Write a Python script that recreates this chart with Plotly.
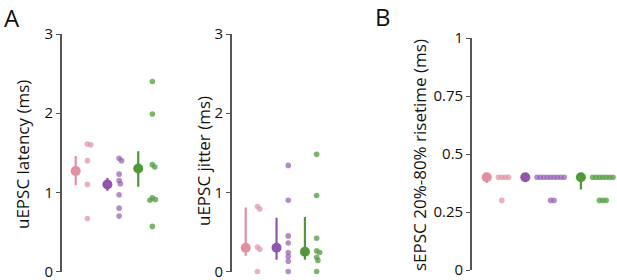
import plotly.graph_objects as go
import numpy as np

W, H = 617, 280

group_names = ["pink", "purple", "green"]
mean_colors = ["#e48fa1", "#9056ae", "#4e9a38"]
point_colors = ["rgba(228,150,168,0.75)", "rgba(150,96,182,0.72)", "rgba(86,160,66,0.78)"]

# Panel A left: uEPSC latency (ms)
latency_pink = [1.61, 1.60, 1.40, 1.10, 0.67]
latency_purple = [1.43, 1.40, 1.23, 1.15, 1.11, 0.97, 0.80, 0.70]
latency_green = [2.40, 1.99, 1.35, 1.32, 0.93, 0.91, 0.90, 0.57]
latency_center = [1.27, 1.10, 1.30]
latency_low = [1.09, 1.02, 1.07]
latency_high = [1.46, 1.18, 1.52]

# Panel A right: uEPSC jitter (ms)
jitter_pink = [0.82, 0.79, 0.31, 0.28, 0.0]
jitter_purple = [1.34, 0.90, 0.45, 0.36, 0.24, 0.19, 0.13, 0.0]
jitter_green = [1.48, 0.96, 0.42, 0.26, 0.24, 0.18, 0.14, 0.0]
jitter_center = [0.30, 0.30, 0.25]
jitter_low = [0.20, 0.15, 0.15]
jitter_high = [0.81, 0.68, 0.69]

# Panel B: sEPSC 20%-80% risetime (ms)
rise_pink = [0.4, 0.4, 0.4, 0.4, 0.3]
rise_purple = [0.4, 0.4, 0.4, 0.4, 0.4, 0.4, 0.4, 0.4, 0.4, 0.3, 0.3]
rise_green = [0.4, 0.4, 0.4, 0.4, 0.4, 0.4, 0.4, 0.3, 0.3, 0.3]
rise_center = [0.40, 0.40, 0.40]
rise_low = [0.375, 0.40, 0.347]
rise_high = [0.40, 0.40, 0.40]

A_ticks = [0, 1, 2, 3]
A_ticktext = ["0", "1", "2", "3"]
B_ticks = [0, 0.25, 0.5, 0.75, 1]
B_ticktext = ["0", "0.25", "0.5", "0.75", "1"]

FONT = "Open Sans"
AXC = "#555555"


def swarm(values, px_per_unit, d=3.4):
    vals = np.asarray(values, dtype=float)
    order = np.argsort(-vals, kind="stable")
    placed = []
    res = [0.0] * len(vals)
    for i in order:
        y = vals[i] * px_per_unit
        cands = [0.0]
        for (px, py) in placed:
            dy = y - py
            if abs(dy) < d:
                dx = (d * d - dy * dy) ** 0.5
                cands += [px + dx, px - dx]
        cands.sort(key=abs)
        for c in cands:
            if all((c - px) ** 2 + (y - py) ** 2 >= d * d - 1e-6 for px, py in placed):
                res[i] = c
                placed.append((c, y))
                break
    return res


panels = [
    dict(groups=[latency_pink, latency_purple, latency_green], c=latency_center,
         lo=latency_low, hi=latency_high, x0=62, x1=165, ytop=34, ybot=271.5,
         rng=[0, 3], start=13.7, tv=A_ticks, tt=A_ticktext),
    dict(groups=[jitter_pink, jitter_purple, jitter_green], c=jitter_center,
         lo=jitter_low, hi=jitter_high, x0=232, x1=335, ytop=34, ybot=271.5,
         rng=[0, 3], start=13.7, tv=A_ticks, tt=A_ticktext),
    dict(groups=[rise_pink, rise_purple, rise_green], c=rise_center,
         lo=rise_low, hi=rise_high, x0=472, x1=617, ytop=38, ybot=270,
         rng=[0, 1], start=14.7, tv=B_ticks, tt=B_ticktext),
]

fig = go.Figure()
layout = dict(width=W, height=H, margin=dict(l=0, r=0, t=0, b=0, autoexpand=False),
              paper_bgcolor="white", plot_bgcolor="white", showlegend=False,
              template="none",
              font=dict(family=FONT, color="#111111"))

for k, p in enumerate(panels):
    n = k + 1
    xa = "x" if n == 1 else f"x{n}"
    ya = "y" if n == 1 else f"y{n}"
    ppu = (p["ybot"] - p["ytop"]) / (p["rng"][1] - p["rng"][0])
    cursor = p["start"]
    for g, vals in enumerate(p["groups"]):
        mx = cursor
        offs = swarm(vals, ppu)
        mn = min(offs)
        xs = [mx + 11.7 + (o - mn) for o in offs]
        cursor = max(xs) + 16.7
        fig.add_trace(go.Scatter(
            x=xs, y=vals, mode="markers", xaxis=xa, yaxis=ya, cliponaxis=False,
            marker=dict(size=5.6, color=point_colors[g], line=dict(width=0)),
            hoverinfo="skip"))
        c = p["c"][g]
        fig.add_trace(go.Scatter(
            x=[mx], y=[c], mode="markers", xaxis=xa, yaxis=ya, cliponaxis=False,
            marker=dict(size=10, color=mean_colors[g], line=dict(width=0)),
            error_y=dict(type="data", symmetric=False,
                         array=[p["hi"][g] - c], arrayminus=[c - p["lo"][g]],
                         thickness=2.2, width=0, color=mean_colors[g]),
            hoverinfo="skip"))
    xkey = "xaxis" if n == 1 else f"xaxis{n}"
    ykey = "yaxis" if n == 1 else f"yaxis{n}"
    layout[xkey] = dict(domain=[p["x0"] / W, p["x1"] / W], range=[0, p["x1"] - p["x0"]],
                        visible=False, anchor=ya, automargin=False)
    layout[ykey] = dict(domain=[(H - p["ybot"]) / H, (H - p["ytop"]) / H],
                        range=p["rng"], anchor=xa, showgrid=False, zeroline=False,
                        automargin=False, ticklabeloverflow="allow",
                        showline=True, linecolor=AXC, linewidth=1.6,
                        ticks="outside", ticklen=4, tickwidth=1.2, tickcolor=AXC,
                        tickvals=p["tv"], ticktext=p["tt"],
                        tickfont=dict(family=FONT, size=15, color="#111111"))

fig.update_layout(**layout)

titles = [
    ("uEPSC latency (ms)", 22, 155, 17),
    ("uEPSC jitter (ms)", 203, 161, 17),
    ("sEPSC 20%-80% risetime (ms)", 419, 155, 17),
]
for t, x, y, s in titles:
    fig.add_annotation(text=t, x=x / W, y=1 - y / H, xref="paper", yref="paper",
                       textangle=-90, showarrow=False, xanchor="center", yanchor="middle",
                       font=dict(family=FONT, size=s, color="#111111"))

for t, x, y in [("A", 12, 17), ("B", 383, 16.5)]:
    fig.add_annotation(text=t, x=x / W, y=1 - y / H, xref="paper", yref="paper",
                       showarrow=False, xanchor="center", yanchor="middle",
                       font=dict(family=FONT, size=24, color="#111111"))

fig.write_html("out.html", config={"displayModeBar": False},
               post_script="document.body.style.margin='0px';document.body.style.padding='0px';")
